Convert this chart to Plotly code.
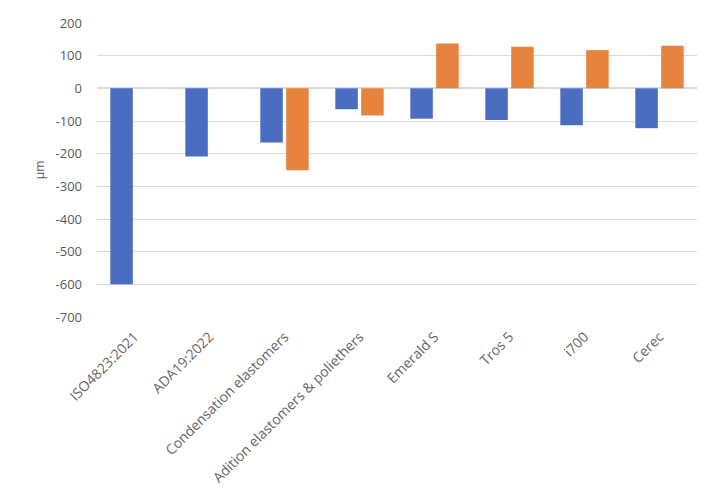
import plotly.graph_objects as go

categories = ["ISO4823:2021", "ADA19:2022", "Condensation elastomers",
              "Adition elastomers & poliethers", "Emerald S", "Tros 5", "i700", "Cerec"]
series_blue = [-600, -209, -166, -64, -93, -97, -113, -122]
series_orange = [None, None, -251, -83, 137, 127, 117, 130]
y_ticks = [200, 100, 0, -100, -200, -300, -400, -500, -600, -700]
y_tick_labels = ["200", "100", "0", "-100", "-200", "-300", "-400", "-500", "-600", "-700"]

font_family = "Open Sans, Liberation Sans, sans-serif"
txt = "#595959"

# page body has an 8px default margin; figure is sized to fit the 722x491 window
W, H = 714, 483
L, T, R = 89, 15, 25
B = H - (317 - 8)
plot_w = W - L - R
plot_h = H - T - B

fig = go.Figure()
fig.add_trace(go.Bar(x=categories, y=series_blue, name="Series 1",
                     marker=dict(color="#4A6CC1", line=dict(width=0))))
fig.add_trace(go.Bar(x=categories, y=series_orange, name="Series 2",
                     marker=dict(color="#E6833F", line=dict(width=0))))

fig.update_layout(
    width=W, height=H,
    margin=dict(l=L, r=R, t=T, b=B, autoexpand=False),
    paper_bgcolor="white", plot_bgcolor="white",
    barmode="group", bargap=0.31, bargroupgap=0.13,
    showlegend=False,
    font=dict(family=font_family, color=txt, size=12),
    xaxis=dict(tickangle=-45, showgrid=False, showline=False, ticks="",
               ticklabelstandoff=8, automargin=False,
               tickfont=dict(size=14, color="#666666")),
    yaxis=dict(range=[-700, 200], tickvals=y_ticks, ticktext=y_tick_labels,
               showgrid=True, gridcolor="#D9D9D9", gridwidth=1, zeroline=True,
               zerolinecolor="#D9D9D9", zerolinewidth=1.5, automargin=False,
               showline=False, ticks="", ticklabelstandoff=14,
               tickfont=dict(size=13, color=txt),
               title=dict(text="µm", font=dict(size=12, color=txt), standoff=8)),
    shapes=[dict(type="line", xref="paper", yref="paper",
                 x0=-L / plot_w, x1=(W - 2 - L) / plot_w,
                 y0=1 + (23 - 4) / plot_h, y1=1 + (23 - 4) / plot_h,
                 line=dict(color="#D9D9D9", width=1.5))],
)

fig.write_html("out.html")
